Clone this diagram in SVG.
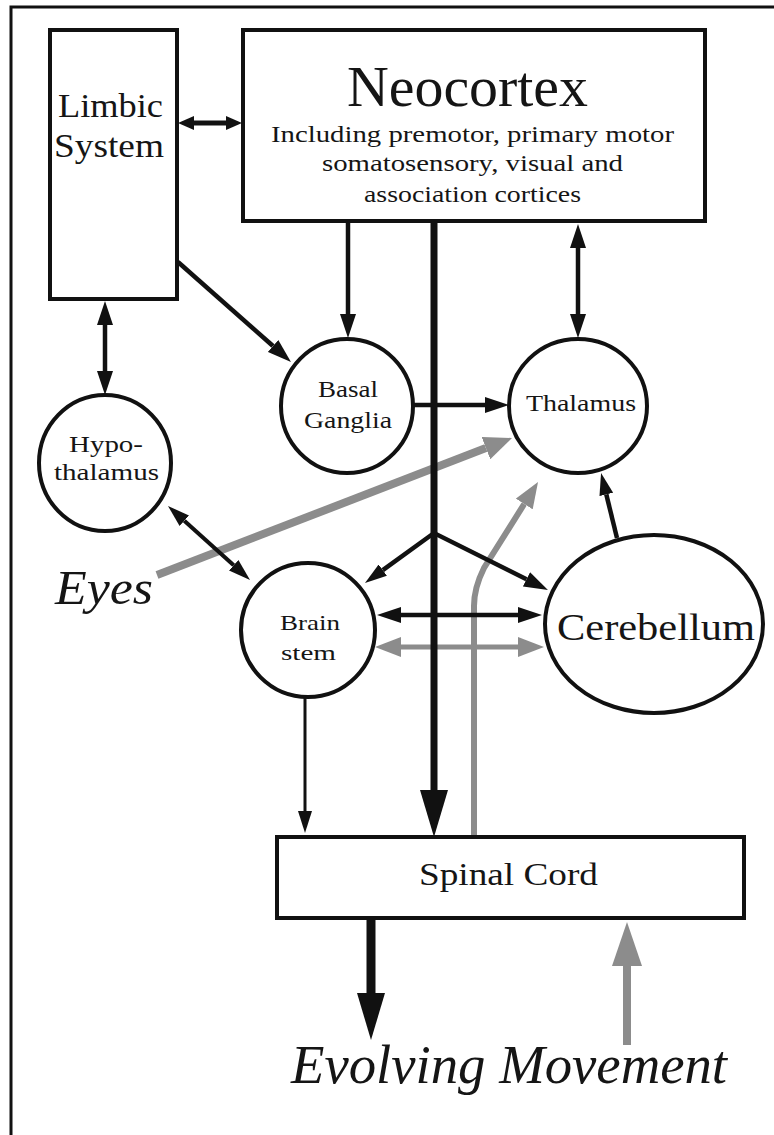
<svg xmlns="http://www.w3.org/2000/svg" width="774" height="1135" viewBox="0 0 774 1135">
<style>
.box{fill:#fff;stroke:#111;stroke-width:4}
.t{font-family:"Liberation Serif","Times New Roman",serif;fill:#151515}
.it{font-style:italic}
.k{stroke:#111;fill:none}
.g{stroke:#8c8c8c;fill:none}
</style>
<defs>
<marker id="aS" viewBox="0 0 16 14" refX="0" refY="7" markerWidth="16" markerHeight="14" markerUnits="userSpaceOnUse" orient="auto-start-reverse"><path d="M0,0 L16,7 L0,14 Z" fill="#111"/></marker>
<marker id="aM" viewBox="0 0 24 16" refX="0" refY="8" markerWidth="24" markerHeight="16" markerUnits="userSpaceOnUse" orient="auto-start-reverse"><path d="M0,0 L24,8 L0,16 Z" fill="#111"/></marker>
<marker id="aT" viewBox="0 0 22 14" refX="0" refY="7" markerWidth="22" markerHeight="14" markerUnits="userSpaceOnUse" orient="auto-start-reverse"><path d="M0,0 L22,7 L0,14 Z" fill="#111"/></marker>
<marker id="aL" viewBox="0 0 47 28" refX="0" refY="14" markerWidth="47" markerHeight="28" markerUnits="userSpaceOnUse" orient="auto-start-reverse"><path d="M0,0 L47,14 L0,28 Z" fill="#111"/></marker>
<marker id="gM" viewBox="0 0 26 20" refX="0" refY="10" markerWidth="26" markerHeight="20" markerUnits="userSpaceOnUse" orient="auto-start-reverse"><path d="M0,0 L26,10 L0,20 Z" fill="#8c8c8c"/></marker>
<marker id="gE" viewBox="0 0 28 24" refX="0" refY="12" markerWidth="28" markerHeight="24" markerUnits="userSpaceOnUse" orient="auto-start-reverse"><path d="M0,0 L28,12 L0,24 Z" fill="#8c8c8c"/></marker>
<marker id="gL" viewBox="0 0 44 30" refX="0" refY="15" markerWidth="44" markerHeight="30" markerUnits="userSpaceOnUse" orient="auto-start-reverse"><path d="M0,0 L44,15 L0,30 Z" fill="#8c8c8c"/></marker>
</defs>
<rect width="774" height="1135" fill="#fff"/>
<path d="M11,1135 L11,7 L774,7" fill="none" stroke="#111" stroke-width="3"/>

<g id="connectors">
<line class="g" x1="157" y1="575" x2="485.9" y2="448.1" stroke-width="8" marker-end="url(#gE)"/>
<path class="g" d="M474,837 L474,606 Q474,588 484,568 L524.2,504" stroke-width="6" marker-end="url(#gM)"/>
<line class="g" x1="401" y1="647" x2="518" y2="647" stroke-width="5" marker-start="url(#gM)" marker-end="url(#gM)"/>
<line class="g" x1="627" y1="1045" x2="627" y2="966" stroke-width="8" marker-end="url(#gL)"/>
<line class="k" x1="194" y1="123" x2="226" y2="123" stroke-width="5" marker-start="url(#aS)" marker-end="url(#aS)"/>
<line class="k" x1="348" y1="222" x2="348" y2="314" stroke-width="4.5" marker-end="url(#aM)"/>
<line class="k" x1="578" y1="248" x2="578" y2="314" stroke-width="4.5" marker-start="url(#aM)" marker-end="url(#aM)"/>
<line class="k" x1="178" y1="262" x2="273" y2="346" stroke-width="4.5" marker-end="url(#aM)"/>
<line class="k" x1="105" y1="325" x2="105" y2="371" stroke-width="4.5" marker-start="url(#aM)" marker-end="url(#aM)"/>
<line class="k" x1="413" y1="405" x2="485" y2="405" stroke-width="4.5" marker-end="url(#aM)"/>
<line class="k" x1="184.3" y1="520.7" x2="233.7" y2="565.3" stroke-width="4" marker-start="url(#aT)" marker-end="url(#aT)"/>
<path class="k" d="M382.8,570.1 L434,533 L526.5,579.3" stroke-width="4.5" marker-start="url(#aT)" marker-end="url(#aM)"/>
<line class="k" x1="617" y1="538" x2="606.3" y2="494.4" stroke-width="4.5" marker-end="url(#aT)"/>
<line class="k" x1="401" y1="615" x2="518" y2="615" stroke-width="4.5" marker-start="url(#aM)" marker-end="url(#aM)"/>
<line class="k" x1="305" y1="697" x2="305" y2="811" stroke-width="3" marker-end="url(#aT)"/>
<line class="k" x1="434" y1="222" x2="434" y2="790" stroke-width="7" marker-end="url(#aL)"/>
<line class="k" x1="371" y1="918" x2="371" y2="993" stroke-width="9" marker-end="url(#aL)"/>
</g>

<g id="limbic">
<rect class="box" x="50" y="30" width="127" height="269"/>
<text class="t" x="58" y="117" font-size="33" textLength="105" lengthAdjust="spacingAndGlyphs">Limbic</text>
<text class="t" x="54" y="157" font-size="33" textLength="110" lengthAdjust="spacingAndGlyphs">System</text>
</g>
<g id="neocortex">
<rect class="box" x="243" y="30" width="462" height="191"/>
<text class="t" x="347" y="106" font-size="57" textLength="241" lengthAdjust="spacingAndGlyphs">Neocortex</text>
<text class="t" x="271" y="142" font-size="23" textLength="403" lengthAdjust="spacingAndGlyphs">Including premotor, primary motor</text>
<text class="t" x="322" y="171" font-size="23" textLength="301" lengthAdjust="spacingAndGlyphs">somatosensory, visual and</text>
<text class="t" x="364" y="202" font-size="23" textLength="217" lengthAdjust="spacingAndGlyphs">association cortices</text>
</g>
<g id="hypothalamus">
<ellipse class="box" cx="105" cy="463" rx="66" ry="68"/>
<text class="t" x="69" y="452" font-size="23" textLength="74" lengthAdjust="spacingAndGlyphs">Hypo-</text>
<text class="t" x="54" y="480" font-size="23" textLength="105" lengthAdjust="spacingAndGlyphs">thalamus</text>
</g>
<g id="basal-ganglia">
<ellipse class="box" cx="347" cy="406" rx="66" ry="67"/>
<text class="t" x="318" y="397" font-size="23" textLength="60" lengthAdjust="spacingAndGlyphs">Basal</text>
<text class="t" x="304" y="428" font-size="23" textLength="88" lengthAdjust="spacingAndGlyphs">Ganglia</text>
</g>
<g id="thalamus">
<ellipse class="box" cx="578" cy="406" rx="69" ry="67"/>
<text class="t" x="526" y="411" font-size="23" textLength="110" lengthAdjust="spacingAndGlyphs">Thalamus</text>
</g>
<g id="brain-stem">
<ellipse class="box" cx="308" cy="630" rx="67" ry="67"/>
<text class="t" x="280" y="630" font-size="22" textLength="60" lengthAdjust="spacingAndGlyphs">Brain</text>
<text class="t" x="281" y="660" font-size="22" textLength="55" lengthAdjust="spacingAndGlyphs">stem</text>
</g>
<g id="cerebellum">
<ellipse class="box" cx="654" cy="624" rx="109" ry="89" stroke-width="6"/>
<text class="t" x="557" y="640" font-size="38" textLength="198" lengthAdjust="spacingAndGlyphs">Cerebellum</text>
</g>
<g id="spinal-cord">
<rect class="box" x="277" y="837" width="467" height="81" stroke-width="3"/>
<text class="t" x="419" y="885" font-size="31" textLength="179" lengthAdjust="spacingAndGlyphs">Spinal Cord</text>
</g>
<g id="eyes">
<text class="t it" x="55" y="604" font-size="48" textLength="98" lengthAdjust="spacingAndGlyphs">Eyes</text>
</g>
<g id="evolving-movement">
<text class="t it" x="291" y="1083" font-size="54" textLength="436" lengthAdjust="spacingAndGlyphs">Evolving Movement</text>
</g>
</svg>
